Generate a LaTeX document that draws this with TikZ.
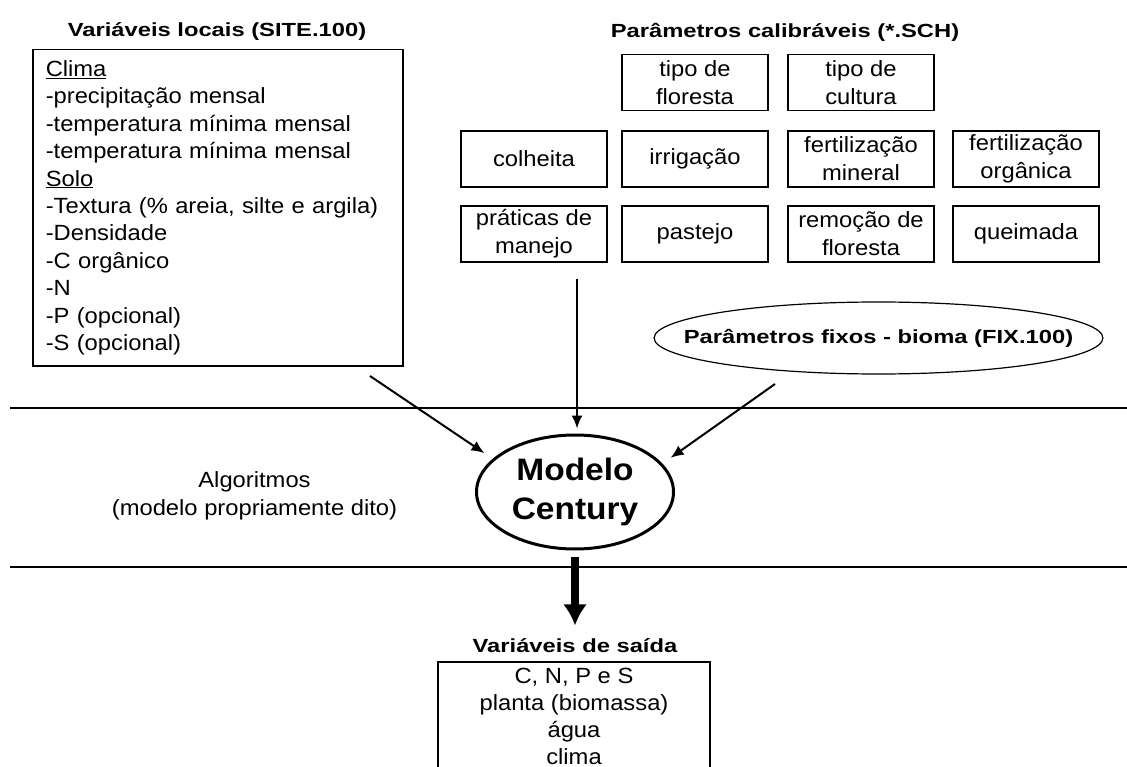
\documentclass[tikz,border=0pt]{standalone}
\usepackage{fontspec}
\setmainfont{Liberation Sans}[FakeStretch=1.08]
\newfontfamily\headfont{Liberation Sans}[FakeStretch=1.25]
\usepackage{tikz}
\usetikzlibrary{shapes,arrows,arrows.meta}
\tikzstyle{sitebox}=[rectangle, draw, line width=1.5pt, anchor=north west, minimum width=370pt, minimum height=316pt, text width=344pt, inner xsep=13pt, align=left, font=\fontsize{22}{27.4}\selectfont]
\tikzstyle{calbox}=[rectangle, draw, line width=1.5pt, minimum width=146pt, minimum height=56pt, inner sep=2pt, align=center, font=\fontsize{22}{28}\selectfont]
\tikzstyle{saidabox}=[rectangle, draw, line width=1.5pt, anchor=north, minimum width=272pt, inner ysep=6pt, align=center, font=\fontsize{22}{27}\selectfont]
\tikzstyle{titulo}=[font=\headfont\bfseries\fontsize{19}{23}\selectfont]
\tikzstyle{modelo}=[ellipse, draw, line width=3pt, minimum width=197pt, minimum height=114pt, inner sep=0pt, align=center, font=\bfseries\fontsize{31}{39}\selectfont]
\tikzstyle{fixo}=[ellipse, draw, line width=1.2pt, minimum height=72pt, inner xsep=-36pt, inner ysep=0pt, font=\headfont\bfseries\fontsize{19}{23}\selectfont]
\tikzstyle{seta}=[-{Latex[length=13pt,width=11pt]}, line width=2pt]
\tikzstyle{setagrossa}=[-{Latex[length=21pt,width=24pt]}, line width=8pt]
\tikzstyle{faixa}=[line width=1.2pt]
\newcommand{\calbox}[3]{
	\node[calbox] (#1) at (#2) {#3};}
\newcommand{\titulo}[3]{
	\node[titulo] (#1) at (#2) {#3};}

\begin{document}
\begin{tikzpicture}[x=1pt, y=-1pt]
	\useasboundingbox (0,0) rectangle (1127,767);
	
	\titulo{sitetitulo}{217,32}{Variáveis locais (SITE.100)}
	\titulo{caltitulo}{785,32}{Parâmetros calibráveis (*.SCH)}
	
	\node[sitebox] (site) at (32,49) {\underline{Clima}\\-precipitação mensal\\-temperatura mínima mensal\\-temperatura mínima mensal\\\underline{Solo}\\-Textura (\% areia, silte e argila)\\-Densidade\\-C orgânico\\-N\\-P (opcional)\\-S (opcional)};
	
	\calbox{floresta}{695,82.5}{tipo de\\floresta}
	\calbox{cultura}{861,82.5}{tipo de\\cultura}
	\calbox{colheita}{534,159}{colheita}
	\calbox{irrigacao}{695,159}{irrigação}
	\calbox{fertmineral}{861,159}{fertilização\\mineral}
	\calbox{fertorganica}{1026,159}{fertilização\\orgânica}
	\calbox{manejo}{534,234}{práticas de\\manejo}
	\calbox{pastejo}{695,234}{pastejo}
	\calbox{remocao}{861,234}{remoção de\\floresta}
	\calbox{queimada}{1026,234}{queimada}
	
	\node[fixo] (fixos) at (878.5,338) {Parâmetros fixos - bioma (FIX.100)};
	
	\draw[faixa] (10,408) -- (1127,408);
	\draw[faixa] (10,567) -- (1127,567);
	
	\node[modelo] (century) at (575,492) {Modelo\\Century};
	\node[align=center, font=\fontsize{22}{28}\selectfont] (algoritmos) at (254.5,495.5) {Algoritmos\\(modelo propriamente dito)};
	
	\titulo{saidatitulo}{575,646}{Variáveis de saída}
	\node[saidabox] (saida) at (574,661) {C, N, P e S\\planta (biomassa)\\água\\clima};
	
	\coordinate (sitepe) at (370,376);
	\coordinate (calpe) at (577,279);
	\coordinate (fixope) at (775,384);
	
	\draw[seta, shorten >=10pt] (sitepe) -- (century.158);
	\draw[seta, shorten >=5pt] (calpe) -- (calpe |- century.north);
	\draw[seta, shorten >=10pt] (fixope) -- (century.18);
	\draw[setagrossa, shorten <=6pt, shorten >=10pt] (century.south) -- (saidatitulo.north);
\end{tikzpicture}
\end{document}
